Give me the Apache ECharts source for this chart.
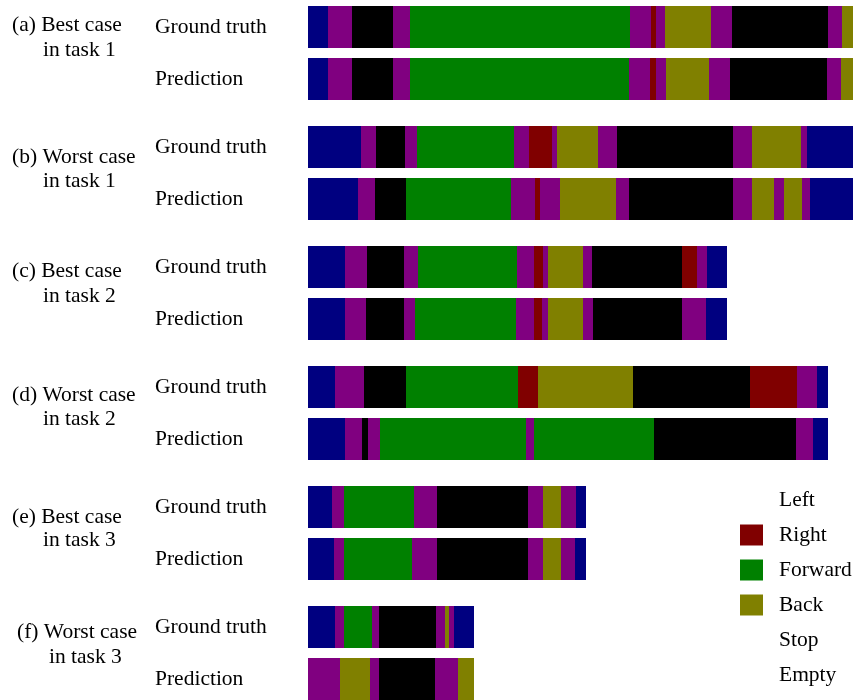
<!DOCTYPE html>
<html>
<head>
<meta charset="utf-8">
<title>Action sequences: ground truth vs prediction</title>
<script src="https://cdn.jsdelivr.net/npm/echarts@6/dist/echarts.min.js"></script>
<style>
  html, body { margin: 0; padding: 0; background: #ffffff; }
  #chart { width: 853px; height: 700px; }
</style>
</head>
<body>
<div id="chart"></div>
<script>
// Action classes and their codes used in the sequences below
const actionNames = ['Left', 'Right', 'Forward', 'Back', 'Stop', 'Empty'];
const actionCodes = ['L', 'R', 'F', 'B', 'S', 'E'];

// Row labels
const rowLabels = ['Ground truth', 'Prediction'];

// Case labels (two lines each)
const caseLabels = [
  ['(a) Best case', 'in task 1'],
  ['(b) Worst case', 'in task 1'],
  ['(c) Best case', 'in task 2'],
  ['(d) Worst case', 'in task 2'],
  ['(e) Best case', 'in task 3'],
  ['(f) Worst case', 'in task 3']
];

// Run-length encoded sequences: [action code, duration in frames]
const caseA_truth = [['L',20],['E',24],['S',41],['E',17],['F',220],['E',21],['R',5],['E',9],['B',46],['E',21],['S',96],['E',14],['B',11]];
const caseA_pred  = [['L',20],['E',24],['S',41],['E',17],['F',219],['E',21],['R',6],['E',10],['B',43],['E',21],['S',97],['E',14],['B',12]];

const caseB_truth = [['L',53],['E',15],['S',29],['E',12],['F',97],['E',15],['R',23],['E',5],['B',41],['E',19],['S',116],['E',19],['B',49],['E',6],['L',46]];
const caseB_pred  = [['L',50],['E',17],['S',31],['F',105],['E',24],['R',5],['E',20],['B',56],['E',13],['S',104],['E',19],['B',22],['E',10],['B',18],['E',8],['L',43]];

const caseC_truth = [['L',37],['E',22],['S',37],['E',14],['F',99],['E',17],['R',9],['E',5],['B',35],['E',9],['S',90],['R',15],['E',10],['L',20]];
const caseC_pred  = [['L',37],['E',21],['S',38],['E',11],['F',101],['E',18],['R',8],['E',6],['B',35],['E',10],['S',89],['E',24],['L',21]];

const caseD_truth = [['L',27],['E',29],['S',42],['F',112],['R',20],['B',95],['S',117],['R',47],['E',20],['L',11]];
const caseD_pred  = [['L',37],['E',17],['S',6],['E',12],['F',146],['E',8],['F',120],['S',142],['E',17],['L',15]];

const caseE_truth = [['L',24],['E',12],['F',70],['E',23],['S',91],['E',15],['B',18],['E',15],['L',10]];
const caseE_pred  = [['L',26],['E',10],['F',68],['E',25],['S',91],['E',15],['B',18],['E',14],['L',11]];

const caseF_truth = [['L',27],['E',9],['F',28],['E',7],['S',57],['E',9],['B',4],['E',5],['L',20]];
const caseF_pred  = [['E',32],['B',30],['E',9],['S',56],['E',23],['B',16]];

const cases = [
  [caseA_truth, caseA_pred],
  [caseB_truth, caseB_pred],
  [caseC_truth, caseC_pred],
  [caseD_truth, caseD_pred],
  [caseE_truth, caseE_pred],
  [caseF_truth, caseF_pred]
];

// Common horizontal extent (frames) shared by every panel
const axisMaxFrames = 545;

// Drawing styles
const palette = {
  L: '#000080',
  R: '#800000',
  F: '#008000',
  B: '#808000',
  S: '#000000',
  E: '#800080'
};
const serif = "'Liberation Serif', 'Times New Roman', serif";
const fontSize = 21.5;
const barFill = 0.808; // bar thickness as a share of the row spacing

const chart = echarts.init(document.getElementById('chart'), null, { renderer: 'canvas' });

// Turn a run-length sequence into [start, end, row] records per action code
function toSegments(seq, row, out) {
  let t = 0;
  seq.forEach(([code, len]) => {
    out[code].push([t, t + len, row]);
    t += len;
  });
}

function renderSegment(params, api) {
  const row = api.value(2);
  const p0 = api.coord([api.value(0), row]);
  const p1 = api.coord([api.value(1), row]);
  const step = Math.abs(api.coord([0, 1])[1] - api.coord([0, 0])[1]);
  const h = step * barFill;
  return {
    type: 'rect',
    shape: { x: p0[0], y: p0[1] - h / 2, width: p1[0] - p0[0], height: h },
    style: api.style()
  };
}

const grids = [], xAxes = [], yAxes = [], series = [];
cases.forEach((pair, gi) => {
  // the grid spans from the ground-truth row centre to the prediction row centre
  grids.push({ left: 308, right: 0, top: 27 + 120 * gi, height: 52, containLabel: false });
  xAxes.push({
    type: 'value', gridIndex: gi, min: 0, max: axisMaxFrames, show: false
  });
  yAxes.push({
    type: 'category', gridIndex: gi, data: rowLabels, inverse: true, boundaryGap: false,
    axisLine: { show: false }, axisTick: { show: false }, splitLine: { show: false },
    axisLabel: {
      align: 'left', margin: 153, color: '#000',
      fontFamily: serif, fontSize: fontSize
    }
  });
  const byCode = {};
  actionCodes.forEach(c => byCode[c] = []);
  pair.forEach((seq, row) => toSegments(seq, row, byCode));
  actionCodes.forEach((code, ai) => {
    series.push({
      type: 'custom',
      name: actionNames[ai],
      xAxisIndex: gi,
      yAxisIndex: gi,
      renderItem: renderSegment,
      clip: false,
      itemStyle: { color: palette[code] },
      encode: { x: [0, 1], y: 2 },
      data: byCode[code],
      silent: true
    });
  });
});

// Case captions on the left
const captionPos = [
  { x: 12, y1: 26, y2: 51, indent: 43 },
  { x: 12, y1: 158, y2: 182, indent: 43 },
  { x: 12, y1: 272, y2: 297, indent: 43 },
  { x: 12, y1: 396, y2: 420, indent: 43 },
  { x: 12, y1: 518, y2: 541, indent: 43 },
  { x: 17, y1: 633, y2: 658, indent: 49 }
];
const graphics = [];
caseLabels.forEach((lines, i) => {
  const p = captionPos[i];
  graphics.push({
    type: 'text', left: p.x, top: p.y1 - 12, silent: true,
    style: { text: lines[0], font: fontSize + 'px ' + serif, fill: '#000' }
  });
  graphics.push({
    type: 'text', left: p.indent, top: p.y2 - 12, silent: true,
    style: { text: lines[1], font: fontSize + 'px ' + serif, fill: '#000' }
  });
});

// Legend: only Right, Forward and Back show a swatch
const legendData = actionNames.map((name, i) => {
  const code = actionCodes[i];
  const visibleSwatch = code === 'R' || code === 'F' || code === 'B';
  return visibleSwatch ? { name: name } : { name: name, itemStyle: { opacity: 0 } };
});

chart.setOption({
  backgroundColor: '#ffffff',
  animation: false,
  grid: grids,
  xAxis: xAxes,
  yAxis: yAxes,
  legend: {
    data: legendData,
    orient: 'vertical',
    left: 740,
    top: 489,
    padding: 0,
    itemWidth: 23,
    itemHeight: 21,
    itemGap: 13,
    icon: 'rect',
    selectedMode: false,
    textStyle: {
      fontFamily: serif, fontSize: fontSize, color: '#000',
      padding: [0, 0, 0, 11]
    }
  },
  graphic: graphics,
  series: series
});
</script>
</body>
</html>
